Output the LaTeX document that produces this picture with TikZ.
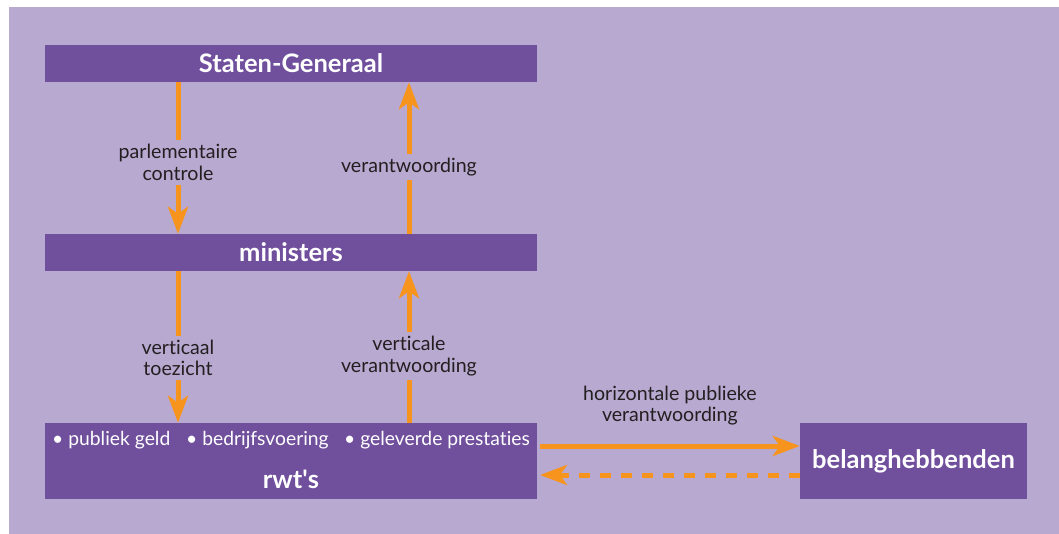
\documentclass[tikz,border=0pt]{standalone}
\usepackage{fontspec}
\setmainfont{Lato}[Ligatures={NoCommon}]
\usetikzlibrary{arrows.meta}
\definecolor{bgl}{HTML}{B8A9D1}
\definecolor{boxp}{HTML}{704F9D}
\definecolor{arrowo}{HTML}{F7941D}
\definecolor{txtd}{HTML}{231F20}
\tikzset{
  boxnode/.style={fill=boxp, draw=none, inner sep=0pt, minimum width=492pt, minimum height=37pt, text=white, font=\fontsize{25.5}{28}\selectfont\bfseries},
  titletext/.style={text=white, inner sep=0pt, font=\fontsize{25.5}{28}\selectfont\bfseries},
  itemtext/.style={text=white, inner sep=0pt, anchor=west, font=\fontsize{19.3}{22}\selectfont},
  arr/.style={draw=arrowo, line width=5pt, -{Stealth[length=27pt, width=20pt, inset=7pt]}},
  lbl/.style={fill=bgl, text=txtd, align=center, inner xsep=2pt, inner ysep=4pt, font=\fontsize{19.6}{21.5}\selectfont},
  hlbl/.style={text=txtd, align=center, inner sep=0pt, font=\fontsize{19.6}{21.5}\selectfont}
}
\begin{document}
\begin{tikzpicture}[x=1pt, y=-1pt]
\useasboundingbox (0,0) rectangle (1059,534);
\fill[white] (0,0) rectangle (1059,534);
\fill[bgl] (9,7) rectangle (1059,534);
\node[boxnode] (sg) at (291,63.5) {Staten-Generaal};
\node[boxnode] (min) at (291,252.5) {ministers};
\node[boxnode, minimum height=76pt] (rwt) at (291,461) {};
\node[titletext] (rwtt) at (291,479) {rwt\textquotesingle s};
\node[itemtext] (i1) at (52,440) {• publiek geld};
\node[itemtext] (i2) at (186,440) {• bedrijfsvoering};
\node[itemtext] (i3) at (344,440) {• geleverde prestaties};
\node[boxnode, minimum width=227pt, minimum height=76pt] (bel) at (913.5,461) {belanghebbenden};
\coordinate (xl) at (178,0);
\coordinate (xr) at (409,0);
\draw[arr] (sg.south -| xl) -- node[lbl, pos=0.53] {parlementaire\\controle} (min.north -| xl);
\draw[arr] (min.north -| xr) -- node[lbl, pos=0.44] {verantwoording} (sg.south -| xr);
\draw[arr] (min.south -| xl) -- node[lbl, pos=0.57] {verticaal\\toezicht} (rwt.north -| xl);
\draw[arr] (rwt.north -| xr) -- node[lbl, pos=0.44] {verticale\\verantwoording} (min.south -| xr);
\coordinate (ha) at (540,446);
\coordinate (hd) at (540,475);
\draw[arr] (ha) -- node[hlbl, above=18pt] {horizontale publieke\\verantwoording} (ha -| bel.west);
\draw[arr, dash pattern=on 11pt off 10pt] (hd -| bel.west) -- (hd);
\end{tikzpicture}
\end{document}
